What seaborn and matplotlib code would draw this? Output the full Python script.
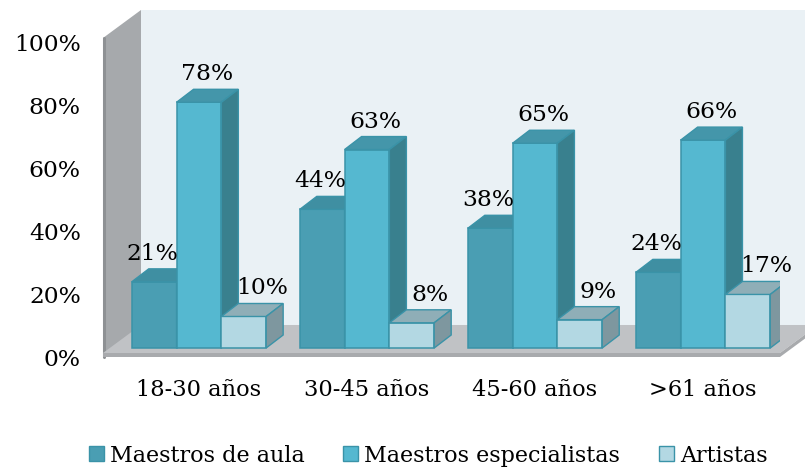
import numpy as np
import pandas as pd
import matplotlib.pyplot as plt
import seaborn as sns
from matplotlib.patches import Polygon, Patch

# datos
edades = ["18-30 años", "30-45 años", "45-60 años", ">61 años"]
grupos = ["Maestros de aula", "Maestros especialistas", "Artistas"]
maestros_aula = [0.21, 0.44, 0.38, 0.24]
maestros_esp = [0.78, 0.63, 0.65, 0.66]
artistas = [0.10, 0.08, 0.09, 0.17]
yticks = [0, 0.2, 0.4, 0.6, 0.8, 1.0]

# colores: frente, tapa, lateral
c_front = ["#4A9EB3", "#55B8D0", "#B3D8E3"]
c_top = ["#3F8FA2", "#4496AA", "#8FAEB7"]
c_side = ["#387E8C", "#39808E", "#7E979F"]
c_edge = "#3A93A8"

df = pd.DataFrame({
    "edad": edades * 3,
    "grupo": [g for g in grupos for _ in edades],
    "valor": maestros_aula + maestros_esp + artistas,
})

sns.set_style("white")
plt.rcParams["font.family"] = ["DejaVu Serif"]
plt.rcParams["text.color"] = "black"
plt.rcParams["xtick.color"] = "black"
plt.rcParams["ytick.color"] = "black"
fs = 16.8

fig = plt.figure(figsize=(8.05, 4.71), dpi=100)
ax = fig.add_axes([103 / 805, (471 - 357) / 471, 677 / 805, 324 / 471])
ax.set_facecolor("none")

sns.barplot(data=df, x="edad", y="valor", hue="grupo", order=edades,
            hue_order=grupos, palette=c_front, width=0.8, saturation=1,
            edgecolor=c_edge, linewidth=1.1, legend=False, ax=ax)

x0, x1 = -0.571, 3.458
y0, y1 = -0.0286, 1.0
ax.set_xlim(x0, x1)
ax.set_ylim(y0, y1)
sx = (x1 - x0) / 677   # unidades por pixel
sy = (y1 - y0) / 324

# paredes y suelo
wdx, wdy = 38 * sx, 28 * sy
wt = y1 - 5 * sy
yf = -5 * sy
ax.add_patch(Polygon([(x0 + wdx, y0 + wdy), (x1 + wdx, y0 + wdy), (x1 + wdx, wt + wdy), (x0 + wdx, wt + wdy)],
                     closed=True, facecolor="#EAF1F5", edgecolor="none", zorder=0, clip_on=False))
ax.add_patch(Polygon([(x0, y0), (x0, wt), (x0 + wdx, wt + wdy), (x0 + wdx, y0 + wdy)],
                     closed=True, facecolor="#A6A9AC", edgecolor="none", zorder=0.5, clip_on=False))
ax.plot([x0 + sx, x0 + sx], [y0, wt], color="#8E9194", lw=2.2, zorder=0.6, clip_on=False)
ax.add_patch(Polygon([(x0, yf), (x1, yf), (x1 + wdx, yf + wdy), (x0 + wdx, yf + wdy)],
                     closed=True, facecolor="#C0C2C5", edgecolor="none", zorder=1, clip_on=False))
ax.add_patch(Polygon([(x0, y0), (x1, y0), (x1, yf), (x0, yf)],
                     closed=True, facecolor="#A8AAAD", edgecolor="none", zorder=1, clip_on=False))
ax.add_patch(Polygon([(x1, y0), (x1, yf), (x1 + wdx, yf + wdy), (x1 + wdx, y0 + wdy)],
                     closed=True, facecolor="#A8AAAD", edgecolor="none", zorder=1, clip_on=False))

# barras en 3D
bdx, bdy = 17 * sx, 13 * sy
valores = [maestros_aula, maestros_esp, artistas]
for h, cont in enumerate(ax.containers):
    for i, bar in enumerate(cont):
        x, w, hg = bar.get_x(), bar.get_width(), bar.get_height()
        z = 3 + h
        bar.set_zorder(z)
        ax.add_patch(Polygon([(x, hg), (x + w, hg), (x + w + bdx, hg + bdy), (x + bdx, hg + bdy)],
                             closed=True, facecolor=c_top[h], edgecolor=c_edge, lw=1, zorder=z))
        ax.add_patch(Polygon([(x + w, 0), (x + w, hg), (x + w + bdx, hg + bdy), (x + w + bdx, bdy)],
                             closed=True, facecolor=c_side[h], edgecolor=c_edge, lw=1, zorder=z))
        ax.text(x + w / 2 + bdx / 2 + (h - 1) * 10 * sx, hg + bdy + 4 * sy,
                f"{valores[h][i]:.0%}", ha="center", va="bottom", fontsize=fs, zorder=10)

ax.set_yticks([t + y0 for t in yticks])
ax.set_yticklabels([f"{t:.0%}" for t in yticks])
ax.set_xticks(range(len(edades)))
ax.set_xticklabels(edades)
ax.tick_params(axis="y", length=0, pad=16, labelsize=fs)
ax.tick_params(axis="x", length=0, pad=16, labelsize=16.2)
ax.set_xlabel("")
ax.set_ylabel("")
for s in ax.spines.values():
    s.set_visible(False)

handles = [Patch(facecolor=c_front[k], edgecolor=c_edge, lw=1) for k in range(3)]
fig.legend(handles, grupos, loc="lower center", bbox_to_anchor=(0.532, -0.033), ncol=3,
           frameon=False, fontsize=16, handlelength=0.66, handleheight=0.66,
           handletextpad=0.28, columnspacing=1.75)

fig.savefig("out.png", dpi=100)
